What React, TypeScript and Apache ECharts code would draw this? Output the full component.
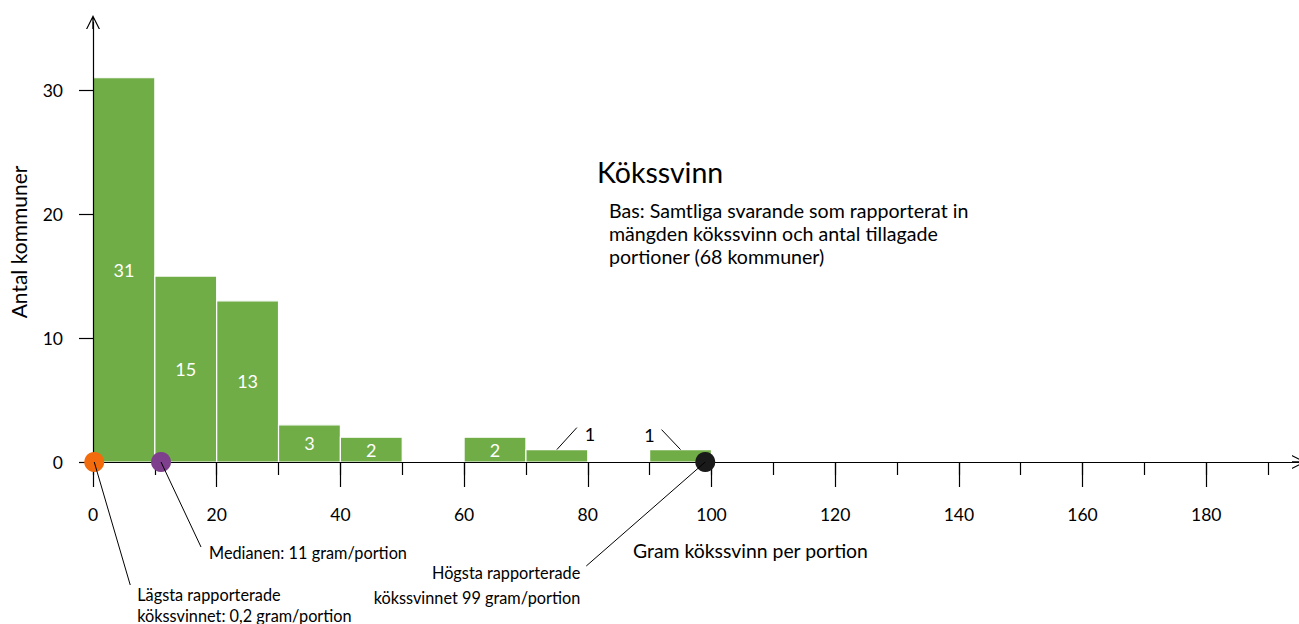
import React, { useEffect, useRef } from "react";
import * as echarts from "echarts";

// ---------- data ----------
const binStarts = [0, 10, 20, 30, 40, 50, 60, 70, 80, 90];
const binWidth = 10;
const binCounts = [31, 15, 13, 3, 2, 0, 2, 1, 0, 1];

const xLabelTicks = [0, 20, 40, 60, 80, 100, 120, 140, 160, 180];
const xMinorTicks = [0, 10, 20, 30, 40, 50, 60, 70, 80, 90, 100, 110, 120, 130, 140, 150, 160, 170, 180, 190];
const yTicks = [0, 10, 20, 30];

const markerValues = [0.2, 11, 99];
const markerLabels = [
  ["Lägsta rapporterade", "kökssvinnet: 0,2 gram/portion"],
  ["Medianen: 11 gram/portion"],
  ["Högsta rapporterade", "kökssvinnet 99 gram/portion"],
];

const titleText = "Kökssvinn";
const subtitleText =
  "Bas: Samtliga svarande som rapporterat in\nmängden kökssvinn och antal tillagade\nportioner (68 kommuner)";
const xAxisName = "Gram kökssvinn per portion";
const yAxisName = "Antal kommuner";

// ---------- layout / style ----------
const FONT = "Lato, 'Open Sans', sans-serif";
const BAR_COLOR = "#70AD47";
const MARKER_COLORS = ["#F26B0C", "#7E3F8C", "#1A1A1A"];
// callouts for bars whose label sits outside (bin index -> offsets from bar top centre)
const outsideLabels: Record<number, { line: number[]; text: number[] }> = {
  7: { line: [20, -22], text: [33, -16] },
  9: { line: [-19, -20], text: [-31, -15] },
};
const markerCallouts = [
  { line: [36, 123], text: [43, 132], align: "left", gap: 21 },
  { line: [40, 85], text: [48, 90], align: "left", gap: 24 },
  { line: [-119, 104], text: [-125, 110], align: "right", gap: 25 },
];
const ARROW = "path://M7,0 L14,14 L12.7,14 L7.65,3.9 L7.65,14 L6.35,14 L6.35,3.9 L1.3,14 L0,14 Z";

export default function App() {
  const ref = useRef<HTMLDivElement>(null);
  useEffect(() => {
    if (!ref.current) return;
    const chart = echarts.init(ref.current, null, { renderer: "svg" });

    const barData = binStarts.map((s, i) => [s, binCounts[i], i]);
    const markerData = markerValues.map((v, i) => [v, 0, i]);

    const option: any = {
      animation: false,
      backgroundColor: "#ffffff",
      title: [
        {
          text: titleText,
          left: 597,
          top: 157,
          padding: 0,
          textStyle: { fontFamily: FONT, fontSize: 28.5, lineHeight: 30, fontWeight: "normal", color: "#000" },
        },
        {
          text: subtitleText,
          left: 609,
          top: 199,
          padding: 0,
          textStyle: { fontFamily: FONT, fontSize: 19.6, fontWeight: "normal", color: "#000", lineHeight: 23 },
        },
        {
          text: xAxisName,
          left: 633,
          top: 540,
          padding: 0,
          textStyle: { fontFamily: FONT, fontSize: 19.4, lineHeight: 20, fontWeight: "normal", color: "#000" },
        },
      ],
      grid: { left: 92, top: 22, width: 1211, height: 440, containLabel: false },
      xAxis: [
        {
          type: "value",
          min: 0,
          max: 195,
          z: 5,
          axisLine: {
            show: true,
            onZero: false,
            symbol: ["none", ARROW],
            symbolSize: [14, 14],
            lineStyle: { color: "#000", width: 1.2 },
          },
          axisTick: { show: true, length: 25, customValues: xLabelTicks, lineStyle: { color: "#000", width: 1.2 } },
          axisLabel: {
            show: true,
            customValues: xLabelTicks,
            margin: 43,
            fontFamily: FONT,
            fontSize: 17.5,
            color: "#000",
          },
          splitLine: { show: false },
        },
        {
          type: "value",
          min: 0,
          max: 195,
          position: "bottom",
          z: 5,
          axisLine: { show: false },
          axisTick: { show: true, length: 13, customValues: xMinorTicks, lineStyle: { color: "#000", width: 1.2 } },
          axisLabel: { show: false },
          splitLine: { show: false },
        },
      ],
      yAxis: {
        type: "value",
        min: 0,
        max: 35.5,
        z: 5,
        name: yAxisName,
        nameLocation: "middle",
        nameGap: 64,
        nameRotate: 90,
        nameTextStyle: { fontFamily: FONT, fontSize: 21, color: "#000" },
        axisLine: {
          show: true,
          symbol: ["none", ARROW],
          symbolSize: [14, 14],
          lineStyle: { color: "#000", width: 1.2 },
        },
        axisTick: { show: true, length: 14, customValues: yTicks, lineStyle: { color: "#000", width: 1.2 } },
        axisLabel: {
          show: true,
          customValues: yTicks,
          margin: 30,
          fontFamily: FONT,
          fontSize: 17.5,
          color: "#000",
        },
        splitLine: { show: false },
      },
      series: [
        {
          type: "custom",
          name: "bars",
          z: 1,
          data: barData,
          encode: { x: 0, y: 1 },
          renderItem: (params: any, api: any) => {
            const start = api.value(0);
            const count = api.value(1);
            const idx = api.value(2);
            if (!count) return { type: "group", children: [] };
            const p0 = api.coord([start, count]);
            const p1 = api.coord([start + binWidth, 0]);
            const cx = (p0[0] + p1[0]) / 2;
            const children: any[] = [
              {
                type: "rect",
                shape: { x: p0[0], y: p0[1], width: p1[0] - p0[0], height: p1[1] - p0[1] },
                style: { fill: BAR_COLOR, stroke: "#ffffff", lineWidth: 1.2 },
              },
            ];
            const out = outsideLabels[idx];
            if (out) {
              children.push({
                type: "line",
                shape: { x1: cx, y1: p0[1], x2: cx + out.line[0], y2: p0[1] + out.line[1] },
                style: { stroke: "#000", lineWidth: 1 },
              });
              children.push({
                type: "text",
                x: cx + out.text[0],
                y: p0[1] + out.text[1],
                style: {
                  text: String(count),
                  fill: "#000",
                  fontFamily: FONT,
                  fontSize: 18,
                  align: "center",
                  verticalAlign: "middle",
                  textAlign: "center",
                  textVerticalAlign: "middle",
                },
              });
            } else {
              children.push({
                type: "text",
                x: cx,
                y: (p0[1] + p1[1]) / 2,
                style: {
                  text: String(count),
                  fill: "#ffffff",
                  fontFamily: FONT,
                  fontSize: 18,
                  align: "center",
                  verticalAlign: "middle",
                  textAlign: "center",
                  textVerticalAlign: "middle",
                },
              });
            }
            return { type: "group", children };
          },
        },
        {
          type: "custom",
          name: "markers",
          z: 10,
          data: markerData,
          encode: { x: 0, y: 1 },
          clip: false,
          renderItem: (params: any, api: any) => {
            const v = api.value(0);
            const idx = api.value(2);
            const p = api.coord([v, 0]);
            const c = markerCallouts[idx];
            const children: any[] = [
              {
                type: "circle",
                shape: { cx: p[0], cy: p[1], r: 10 },
                style: { fill: MARKER_COLORS[idx] },
              },
              {
                type: "line",
                shape: { x1: p[0], y1: p[1], x2: p[0] + c.line[0], y2: p[1] + c.line[1] },
                style: { stroke: "#000", lineWidth: 1 },
              },
            ];
            markerLabels[idx].forEach((t, k) => {
              children.push({
                type: "text",
                x: p[0] + c.text[0],
                y: p[1] + c.text[1] + k * c.gap,
                style: {
                  text: t,
                  fill: "#000",
                  fontFamily: FONT,
                  fontSize: 16.3,
                  align: c.align,
                  verticalAlign: "middle",
                  textAlign: c.align,
                  textVerticalAlign: "middle",
                },
              });
            });
            return { type: "group", children };
          },
        },
      ],
    };

    chart.setOption(option);
    return () => chart.dispose();
  }, []);

  return (
    <div
      ref={ref}
      style={{ position: "fixed", left: 0, top: 0, width: 1299, height: 624, background: "#fff" }}
    />
  );
}
